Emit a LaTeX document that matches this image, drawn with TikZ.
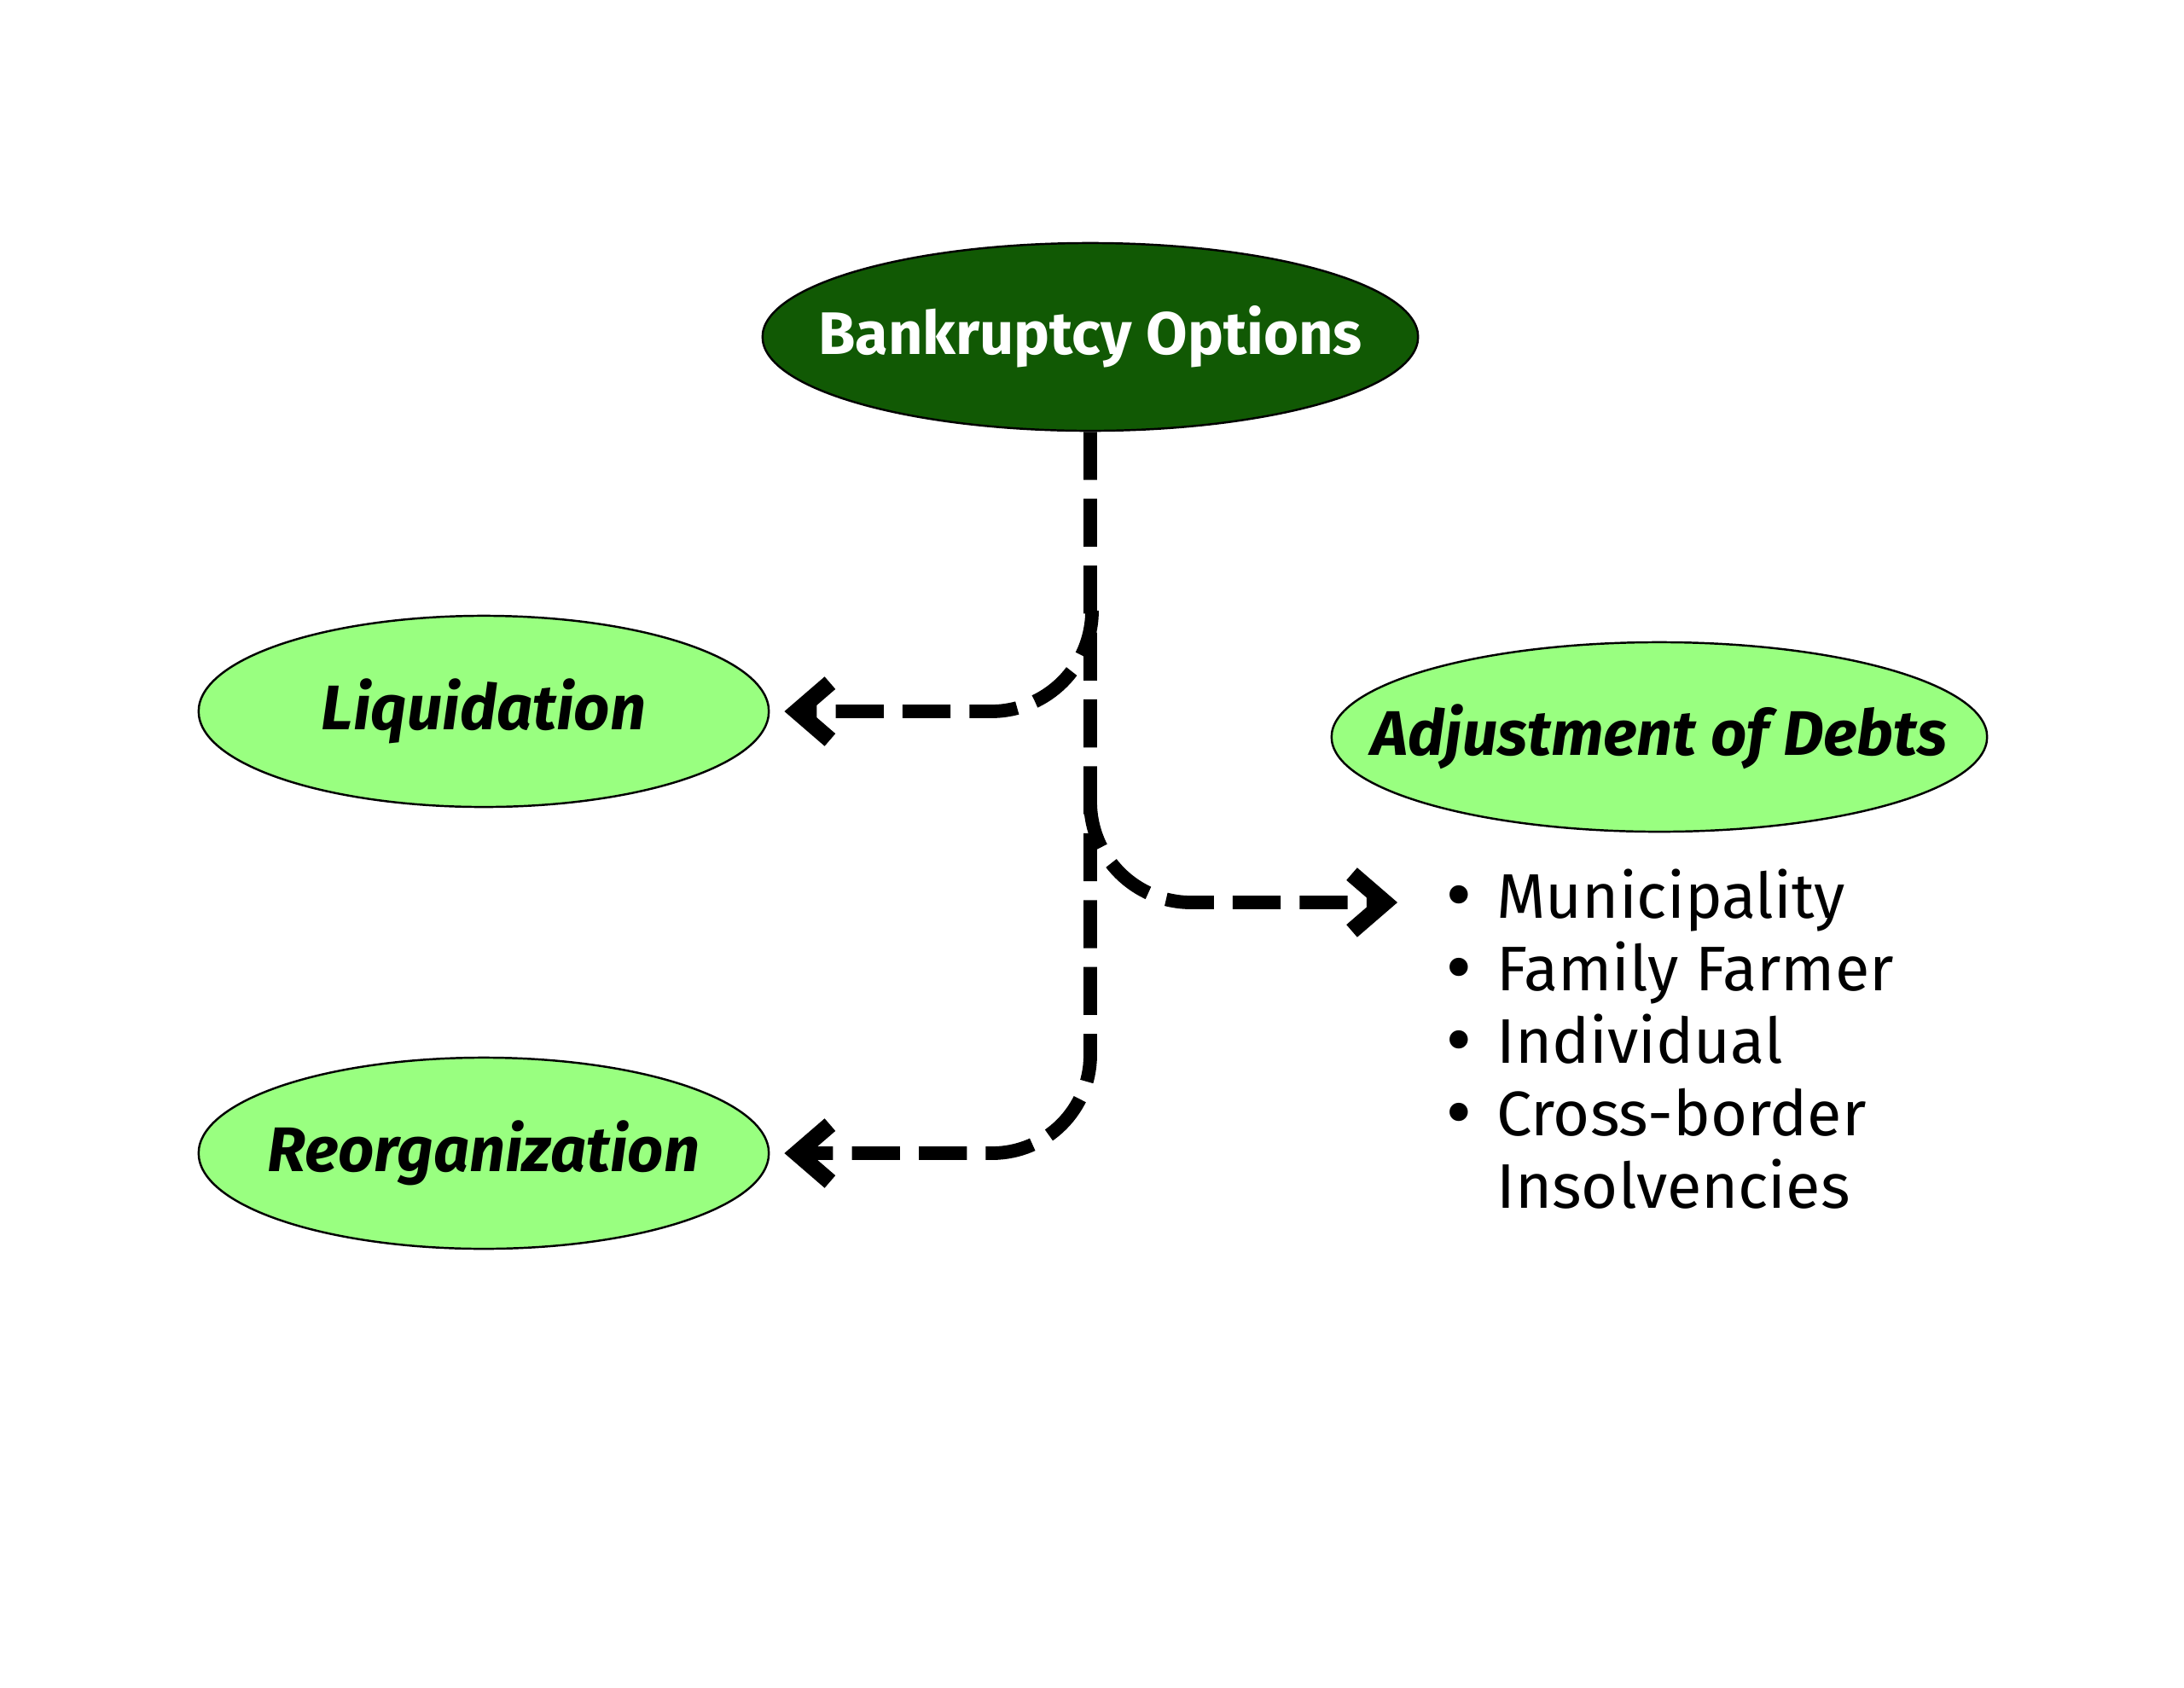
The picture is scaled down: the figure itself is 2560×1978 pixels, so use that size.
\documentclass[tikz,border=0pt]{standalone}
\usepackage{fontspec}
\setmainfont{Fira Sans}
\newfontfamily\dejavu{DejaVu Sans}
\usetikzlibrary{shapes.geometric,arrows.meta}
\definecolor{darkgrn}{RGB}{17,89,4}
\definecolor{lightgrn}{RGB}{153,255,128}
\newcommand\bul{{\dejavu •}\hspace{0.3em}}
\begin{document}
\begin{tikzpicture}[x=0.01cm,y=-0.01cm,
  oval/.style={ellipse, draw=black, line width=0.7pt, inner sep=0pt},
  topoval/.style={oval, fill=darkgrn, text=white, minimum width=7.68cm, minimum height=2.2cm,
    font=\fontsize{20}{24}\selectfont\bfseries},
  suboval/.style={oval, fill=lightgrn, font=\fontsize{21}{25}\selectfont\bfseries\itshape},
  conn/.style={line width=4.5pt, dash pattern=on 16pt off 6.3pt,
    -{Straight Barb[length=11pt,width=19pt,line width=5.5pt]}},
  listtext/.style={align=left, inner sep=0pt, font=\fontsize{21}{24.2}\selectfont}]
\useasboundingbox (0,0) rectangle (2560,1978);
\node[topoval] (top) at (1278,395) {\makebox[0pt]{Bankruptcy Options}};
\node[suboval, minimum width=6.68cm, minimum height=2.24cm] (liq) at (567,834) {\makebox[0pt]{Liquidation}};
\node[suboval, minimum width=6.68cm, minimum height=2.24cm] (reo) at (567,1352) {\makebox[0pt]{Reorganization}};
\node[suboval, minimum width=7.68cm, minimum height=2.22cm] (adj) at (1945,864) {\makebox[0pt]{Adjustment of Debts}};
\node[listtext, anchor=north west] (list) at (1688,1018)
  {\bul Municipality\\ \bul Family Farmer\\ \bul Individual\\ \bul Cross-border\\ \phantom{\bul}Insolvencies};
\coordinate (j1) at (1280,718);
\coordinate (j2) at (1278,939);
\coordinate (lt) at (1638,1058);
\draw[conn, rounded corners=1.15cm] (top.south) -- (top.south |- reo.east) -- ([xshift=0.17cm]reo.east);
\draw[conn, rounded corners=1.18cm] (j1) -- (j1 |- liq.east) -- ([xshift=0.17cm]liq.east);
\draw[conn, rounded corners=1.18cm] (j2) -- (j2 |- lt) -- (lt);
\end{tikzpicture}
\end{document}
